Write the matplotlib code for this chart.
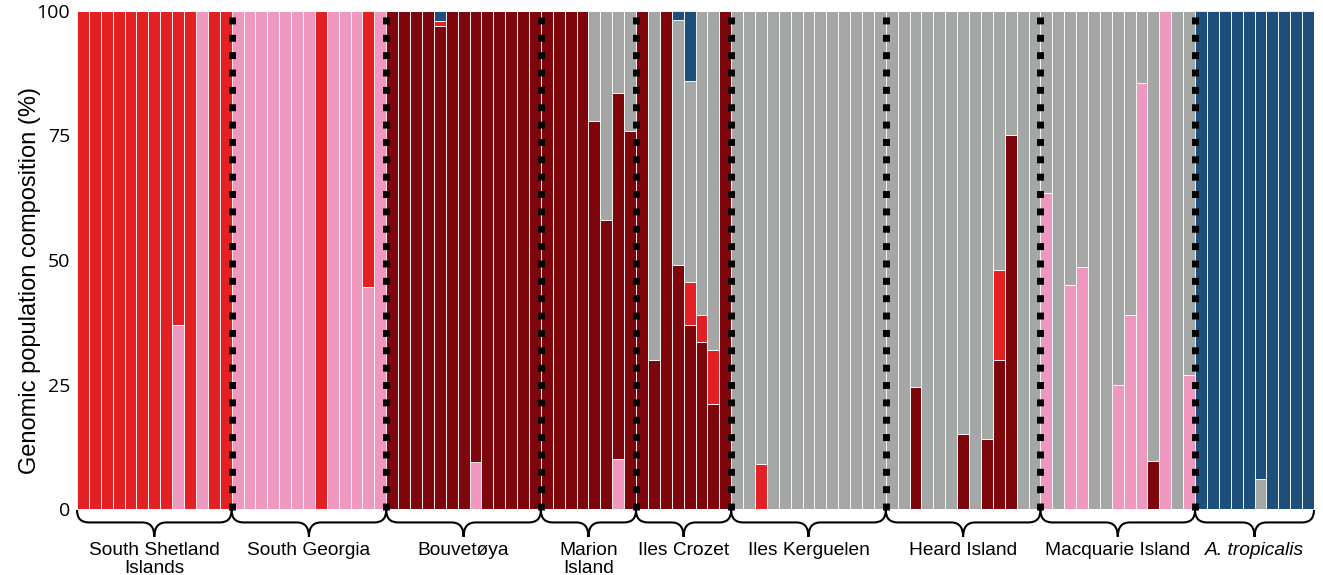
import matplotlib
matplotlib.use("Agg")
import matplotlib.pyplot as plt
import matplotlib.transforms as mtransforms
from matplotlib.path import Path
from matplotlib.patches import PathPatch

# ---------------- data ----------------
populations = ["South Shetland\nIslands", "South Georgia", "Bouvetøya", "Marion\nIsland",
               "Iles Crozet", "Iles Kerguelen", "Heard Island", "Macquarie Island",
               "A. tropicalis"]
pop_sizes = [13, 13, 13, 8, 8, 13, 13, 13, 10]

# genetic cluster memberships (%) per individual, grouped by population
# stacking order bottom -> top: pink, darkred, red, grey, blue
pink = [
    [0, 0, 0, 0, 0, 0, 0, 0, 37, 0, 100, 0, 0],
    [100, 100, 100, 100, 100, 100, 100, 0, 100, 100, 100, 44.5, 100],
    [0, 0, 0, 0, 0, 0, 0, 9.5, 0, 0, 0, 0, 0],
    [0, 0, 0, 0, 0, 0, 10, 0],
    [0, 0, 0, 0, 0, 0, 0, 0],
    [0, 0, 0, 0, 0, 0, 0, 0, 0, 0, 0, 0, 0],
    [0, 0, 0, 0, 0, 0, 0, 0, 0, 0, 0, 0, 0],
    [63.5, 0, 45, 48.5, 0, 0, 25, 39, 85.5, 0, 100, 0, 27],
    [0, 0, 0, 0, 0, 0, 0, 0, 0, 0],
]
darkred = [
    [0, 0, 0, 0, 0, 0, 0, 0, 0, 0, 0, 0, 0],
    [0, 0, 0, 0, 0, 0, 0, 0, 0, 0, 0, 0, 0],
    [100, 100, 100, 100, 97, 100, 100, 90.5, 100, 100, 100, 100, 100],
    [100, 100, 100, 100, 78, 58, 73.5, 76],
    [100, 30, 100, 49, 37, 33.5, 21, 100],
    [0, 0, 0, 0, 0, 0, 0, 0, 0, 0, 0, 0, 0],
    [0, 0, 24.5, 0, 0, 0, 15, 0, 14, 30, 75, 0, 0],
    [0, 0, 0, 0, 0, 0, 0, 0, 0, 9.7, 0, 0, 0],
    [0, 0, 0, 0, 0, 0, 0, 0, 0, 0],
]
red = [
    [100, 100, 100, 100, 100, 100, 100, 100, 63, 100, 0, 100, 100],
    [0, 0, 0, 0, 0, 0, 0, 100, 0, 0, 0, 55.5, 0],
    [0, 0, 0, 0, 1, 0, 0, 0, 0, 0, 0, 0, 0],
    [0, 0, 0, 0, 0, 0, 0, 0],
    [0, 0, 0, 0, 8.5, 5.5, 11, 0],
    [0, 0, 9, 0, 0, 0, 0, 0, 0, 0, 0, 0, 0],
    [0, 0, 0, 0, 0, 0, 0, 0, 0, 18, 0, 0, 0],
    [0, 0, 0, 0, 0, 0, 0, 0, 0, 0, 0, 0, 0],
    [0, 0, 0, 0, 0, 0, 0, 0, 0, 0],
]
grey = [
    [0, 0, 0, 0, 0, 0, 0, 0, 0, 0, 0, 0, 0],
    [0, 0, 0, 0, 0, 0, 0, 0, 0, 0, 0, 0, 0],
    [0, 0, 0, 0, 0, 0, 0, 0, 0, 0, 0, 0, 0],
    [0, 0, 0, 0, 22, 42, 16.5, 24],
    [0, 70, 0, 49.2, 40.5, 61, 68, 0],
    [100, 100, 91, 100, 100, 100, 100, 100, 100, 100, 100, 100, 100],
    [100, 100, 75.5, 100, 100, 100, 85, 100, 86, 52, 25, 100, 100],
    [36.5, 100, 55, 51.5, 100, 100, 75, 61, 14.5, 90.3, 0, 100, 73],
    [0, 0, 0, 0, 0, 6, 0, 0, 0, 0],
]
blue = [
    [0, 0, 0, 0, 0, 0, 0, 0, 0, 0, 0, 0, 0],
    [0, 0, 0, 0, 0, 0, 0, 0, 0, 0, 0, 0, 0],
    [0, 0, 0, 0, 2, 0, 0, 0, 0, 0, 0, 0, 0],
    [0, 0, 0, 0, 0, 0, 0, 0],
    [0, 0, 0, 1.8, 14, 0, 0, 0],
    [0, 0, 0, 0, 0, 0, 0, 0, 0, 0, 0, 0, 0],
    [0, 0, 0, 0, 0, 0, 0, 0, 0, 0, 0, 0, 0],
    [0, 0, 0, 0, 0, 0, 0, 0, 0, 0, 0, 0, 0],
    [100, 100, 100, 100, 100, 94, 100, 100, 100, 100],
]

cluster_values = [pink, darkred, red, grey, blue]
cluster_colors = ["#EE98C0", "#7D050C", "#E32024", "#A5A7A6", "#1E4E7A"]

y_ticks = [0, 25, 50, 75, 100]
y_label = "Genomic population composition (%)"

# ---------------- figure ----------------
W, H = 1323, 575
fig = plt.figure(figsize=(W / 100, H / 100), dpi=100)
ax = fig.add_axes([77 / W, 1 - 509 / H, 1237 / W, 498 / H])

def flat(lst):
    return [v for sub in lst for v in sub]

n = sum(pop_sizes)
xs = list(range(n))
bottom = [0.0] * n
for vals, col in zip(cluster_values, cluster_colors):
    v = flat(vals)
    ax.bar(xs, v, width=1.0, bottom=bottom, color=col, edgecolor="white",
           linewidth=0.6, zorder=2)
    bottom = [b + a for b, a in zip(bottom, v)]

ax.set_xlim(-0.5, n - 0.5)
ax.set_ylim(0, 100)
ax.set_xticks([])
ax.set_yticks(y_ticks)
ax.set_yticklabels([str(t) for t in y_ticks], fontsize=14, family="Open Sans")
ax.tick_params(axis="y", length=0, pad=5)
for s in ax.spines.values():
    s.set_visible(False)
ax.set_axisbelow(True)
ax.yaxis.grid(True, color="#e2e2e2", lw=1)

ax.set_ylabel(y_label, fontsize=17, family="Liberation Sans")
ax.yaxis.set_label_coords(-0.029, 0.458)

# separators
bounds = []
c = 0
for s in pop_sizes:
    bounds.append((c - 0.5, c + s - 0.5))
    c += s
for (x0, x1) in bounds[:-1]:
    ax.plot([x1, x1], [-0.2, 100.4], color="black", lw=5.0, linestyle=(0, (1, 1.5)),
            dash_capstyle="butt", clip_on=False, zorder=6)

# braces and labels
trans = mtransforms.blended_transform_factory(ax.transData, ax.transAxes)
yt, ym, yb = -0.002, -0.027, -0.056
d = 1.0
for (x0, x1), name in zip(bounds, populations):
    xc = (x0 + x1) / 2
    verts = [(x0, yt), (x0, ym), (x0 + d, ym), (xc - d, ym), (xc, ym), (xc, yb),
             (xc, ym), (xc + d, ym), (x1 - d, ym), (x1, ym), (x1, yt)]
    codes = [Path.MOVETO, Path.CURVE3, Path.CURVE3, Path.LINETO, Path.CURVE3, Path.CURVE3,
             Path.CURVE3, Path.CURVE3, Path.LINETO, Path.CURVE3, Path.CURVE3]
    ax.add_patch(PathPatch(Path(verts, codes), transform=trans, facecolor="none",
                           edgecolor="black", lw=1.5, clip_on=False, zorder=7))
    style = "italic" if name.startswith("A. ") else "normal"
    ax.text(xc, -0.066, name, transform=trans, ha="center", va="top", fontsize=13.8,
            family="Liberation Sans", style=style, linespacing=1.05, clip_on=False)

fig.savefig("out.png", dpi=100)
